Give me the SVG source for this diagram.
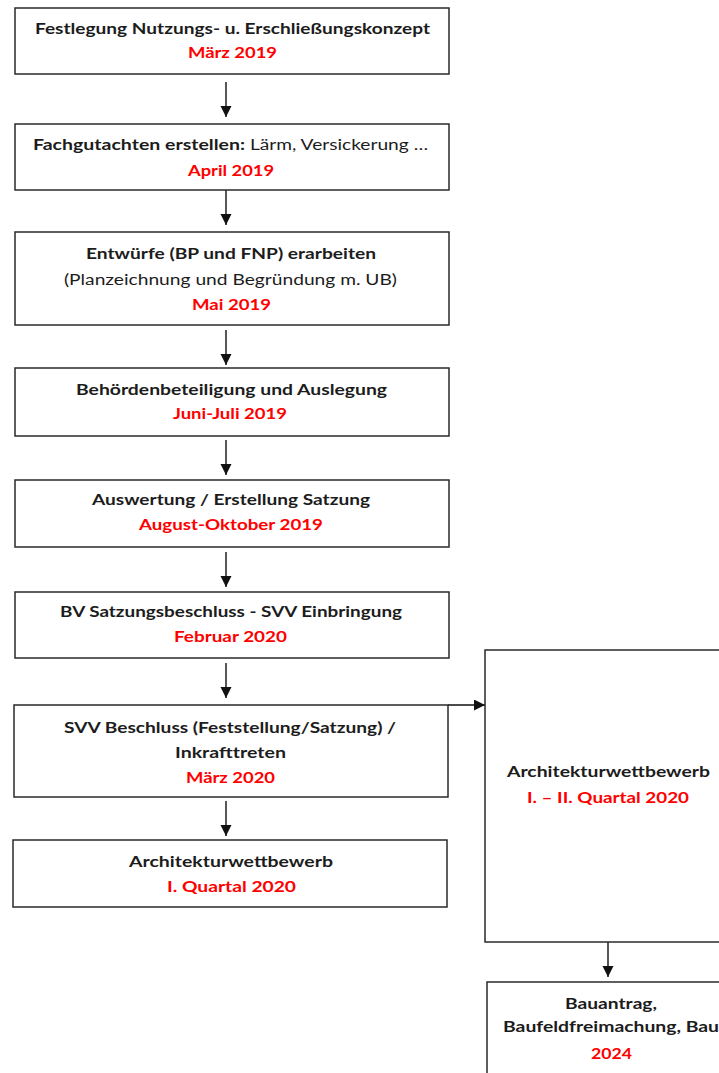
<svg xmlns="http://www.w3.org/2000/svg" width="719" height="1073" viewBox="0 0 719 1073">
<style>
.box{fill:#fff;stroke:#2a2a2a;stroke-width:1.5}
text{font-family:Lato,"Open Sans","Liberation Sans",sans-serif;font-size:15.5px;text-anchor:middle;lengthAdjust:spacingAndGlyphs}
.b{font-weight:bold;fill:#1c1c1c}
.n{font-weight:normal;fill:#1c1c1c}
.r{font-weight:bold;fill:#ff0000}
.s{text-anchor:start}
.conn line{stroke:#111;stroke-width:1.4;marker-end:url(#ah)}
</style>
<defs>
<marker id="ah" markerUnits="userSpaceOnUse" markerWidth="12" markerHeight="12" refX="11" refY="5.5" orient="auto">
<path d="M0,0 L11,5.5 L0,11 Z" fill="#111"/>
</marker>
</defs>
<rect width="719" height="1073" fill="#fff"/>
<g id="connectors" class="conn">
<line x1="226" y1="82" x2="226" y2="117"/>
<line x1="226" y1="190" x2="226" y2="225"/>
<line x1="226" y1="330" x2="226" y2="365"/>
<line x1="226" y1="440" x2="226" y2="475"/>
<line x1="226" y1="552" x2="226" y2="587"/>
<line x1="226" y1="663" x2="226" y2="698"/>
<line x1="226" y1="801" x2="226" y2="836"/>
<line x1="448" y1="705" x2="485" y2="705"/>
<line x1="608" y1="942" x2="608" y2="977"/>
</g>
<g id="n1">
<rect class="box" x="15" y="8" width="434" height="66"/>
<text class="b" x="232.5" y="34" textLength="395" lengthAdjust="spacingAndGlyphs">Festlegung Nutzungs- u. Erschließungskonzept</text>
<text class="r" x="232.5" y="58" textLength="89" lengthAdjust="spacingAndGlyphs">März 2019</text>
</g>
<g id="n2">
<rect class="box" x="15" y="124" width="434" height="66"/>
<text class="b s" x="33" y="150" textLength="212" lengthAdjust="spacingAndGlyphs">Fachgutachten erstellen:</text>
<text class="n s" x="250" y="150" textLength="178" lengthAdjust="spacingAndGlyphs">Lärm, Versickerung …</text>
<text class="r" x="231" y="176" textLength="86" lengthAdjust="spacingAndGlyphs">April 2019</text>
</g>
<g id="n3">
<rect class="box" x="15" y="232" width="434" height="93"/>
<text class="b" x="231" y="259" textLength="290" lengthAdjust="spacingAndGlyphs">Entwürfe (BP und FNP) erarbeiten</text>
<text class="n" x="230.5" y="285" textLength="333" lengthAdjust="spacingAndGlyphs">(Planzeichnung und Begründung m. UB)</text>
<text class="r" x="231.5" y="310" textLength="79" lengthAdjust="spacingAndGlyphs">Mai 2019</text>
</g>
<g id="n4">
<rect class="box" x="15" y="368" width="434" height="68"/>
<text class="b" x="231.5" y="395" textLength="311" lengthAdjust="spacingAndGlyphs">Behördenbeteiligung und Auslegung</text>
<text class="r" x="230" y="419" textLength="114" lengthAdjust="spacingAndGlyphs">Juni-Juli 2019</text>
</g>
<g id="n5">
<rect class="box" x="15" y="480" width="434" height="67"/>
<text class="b" x="231" y="505" textLength="278" lengthAdjust="spacingAndGlyphs">Auswertung / Erstellung Satzung</text>
<text class="r" x="231" y="530" textLength="184" lengthAdjust="spacingAndGlyphs">August-Oktober 2019</text>
</g>
<g id="n6">
<rect class="box" x="15" y="592" width="434" height="66"/>
<text class="b" x="231" y="617" textLength="342" lengthAdjust="spacingAndGlyphs">BV Satzungsbeschluss - SVV Einbringung</text>
<text class="r" x="230.5" y="642" textLength="113" lengthAdjust="spacingAndGlyphs">Februar 2020</text>
</g>
<g id="n7">
<rect class="box" x="14" y="705" width="434" height="92"/>
<text class="b" x="230" y="733" textLength="332" lengthAdjust="spacingAndGlyphs">SVV Beschluss (Feststellung/Satzung) /</text>
<text class="b" x="230.5" y="758" textLength="111" lengthAdjust="spacingAndGlyphs">Inkrafttreten</text>
<text class="r" x="230.5" y="783" textLength="89" lengthAdjust="spacingAndGlyphs">März 2020</text>
</g>
<g id="n8">
<rect class="box" x="13" y="840" width="434" height="67"/>
<text class="b" x="231" y="867" textLength="204" lengthAdjust="spacingAndGlyphs">Architekturwettbewerb</text>
<text class="r" x="231.5" y="892" textLength="129" lengthAdjust="spacingAndGlyphs">I. Quartal 2020</text>
</g>
<g id="n9">
<rect class="box" x="485" y="650" width="250" height="292"/>
<text class="b" x="608.5" y="777" textLength="203" lengthAdjust="spacingAndGlyphs">Architekturwettbewerb</text>
<text class="r" x="608" y="803" textLength="162" lengthAdjust="spacingAndGlyphs">I. – II. Quartal 2020</text>
</g>
<g id="n10">
<rect class="box" x="487" y="982" width="250" height="110"/>
<text class="b" x="611" y="1009" textLength="92" lengthAdjust="spacingAndGlyphs">Bauantrag,</text>
<text class="b s" x="503" y="1032" textLength="216" lengthAdjust="spacingAndGlyphs">Baufeldfreimachung, Bau</text>
<text class="r" x="611.5" y="1059" textLength="41" lengthAdjust="spacingAndGlyphs">2024</text>
</g>
</svg>
